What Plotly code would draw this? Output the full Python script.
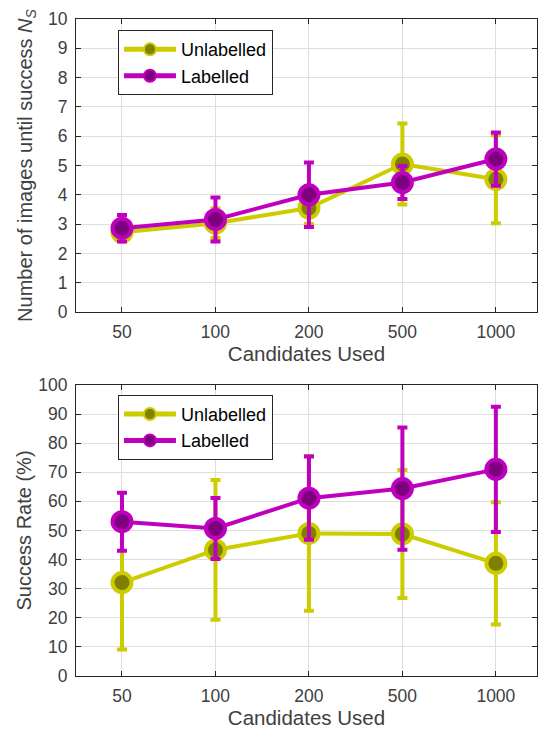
import plotly.graph_objects as go

categories = ["50", "100", "200", "500", "1000"]

# Top panel: number of images until success N_S
unl_ns = [2.72, 3.03, 3.55, 5.05, 4.53]
unl_ns_err = [0.30, 0.50, 0.55, 1.38, 1.50]
lab_ns = [2.86, 3.16, 4.00, 4.42, 5.22]
lab_ns_err = [0.45, 0.75, 1.10, 0.56, 0.91]

# Bottom panel: success rate (%)
unl_sr = [32.1, 43.3, 49.0, 48.8, 38.7]
unl_sr_err = [23.0, 24.0, 26.6, 22.0, 21.0]
lab_sr = [53.0, 50.7, 61.1, 64.4, 71.0]
lab_sr_err = [10.0, 10.5, 14.3, 21.0, 21.5]

series_names = ["Unlabelled", "Labelled"]
line_colors = ["#CCCC00", "#BF00BF"]
face_colors = ["#7F7F00", "#7F007F"]

fig = go.Figure()

def add(y, err, name, lc, fc, xa, ya, legend):
    fig.add_trace(go.Scatter(
        x=categories, y=y, name=name, mode="lines+markers",
        xaxis=xa, yaxis=ya, legend=legend,
        line=dict(color=lc, width=4),
        marker=dict(size=19, color=fc, line=dict(color=lc, width=4)),
        error_y=dict(type="data", array=err, visible=True, color=lc,
                     thickness=4, width=5),
    ))

add(unl_ns, unl_ns_err, series_names[0], line_colors[0], face_colors[0], "x", "y", "legend")
add(lab_ns, lab_ns_err, series_names[1], line_colors[1], face_colors[1], "x", "y", "legend")
add(unl_sr, unl_sr_err, series_names[0], line_colors[0], face_colors[0], "x2", "y2", "legend2")
add(lab_sr, lab_sr_err, series_names[1], line_colors[1], face_colors[1], "x2", "y2", "legend2")

axcol = "#262626"
txtcol = "#404040"
fam = "Liberation Sans, Arial, sans-serif"
xcommon = dict(type="category", range=[-0.492, 4.44], showline=True, mirror="ticks",
               linecolor=axcol, linewidth=1, ticks="inside", ticklen=5, tickcolor=axcol,
               showgrid=True, gridcolor="#DEDEDE", gridwidth=1, zeroline=False,
               tickfont=dict(size=17.5, color=txtcol), ticklabelstandoff=4,
               title=dict(text="Candidates Used", font=dict(size=20.5, color=txtcol), standoff=5))
ycommon = dict(showline=True, mirror="ticks", linecolor=axcol, linewidth=1,
               ticks="inside", ticklen=5, tickcolor=axcol, showgrid=True,
               gridcolor="#DEDEDE", gridwidth=1, zeroline=False,
               tickfont=dict(size=17.5, color=txtcol), ticklabelstandoff=4)

leg = dict(xanchor="left", yanchor="top", bgcolor="white", bordercolor=axcol,
           borderwidth=1, font=dict(size=18, color="#000000", family=fam),
           tracegroupgap=0, itemwidth=52, itemsizing="constant")

fig.update_layout(
    width=542, height=732,
    margin=dict(l=76, r=5, t=19, b=56),
    paper_bgcolor="white", plot_bgcolor="white",
    font=dict(family=fam, size=16, color=txtcol),
    xaxis=dict(**xcommon, anchor="y"),
    xaxis2=dict(**xcommon, anchor="y2"),
    yaxis=dict(**ycommon, domain=[0.554, 1.0], range=[0, 10], dtick=1, anchor="x",
               title=dict(text="Number of images until success <i>N<sub>S</sub></i>",
                          font=dict(size=20, color=txtcol), standoff=10)),
    yaxis2=dict(**ycommon, domain=[0.0, 0.443], range=[0, 100], dtick=10, anchor="x2",
                title=dict(text="Success Rate (%)", font=dict(size=20, color=txtcol), standoff=1)),
    legend=dict(**leg, x=0.091, y=0.983),
    legend2=dict(**leg, x=0.091, y=0.428),
    showlegend=True,
)

fig.write_html("out.html")
